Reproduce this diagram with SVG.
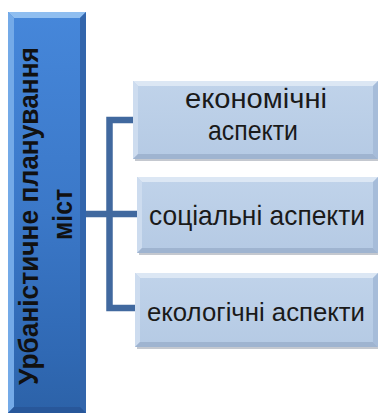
<svg xmlns="http://www.w3.org/2000/svg" width="378" height="414" viewBox="0 0 378 414">
<style>
.t{font-family:"Liberation Sans",Arial,sans-serif;font-size:28px;fill:#1a1a1a;text-anchor:middle}
.m{font-family:"Liberation Sans",Arial,sans-serif;font-size:28px;font-weight:bold;fill:#111;text-anchor:middle}
.conn{fill:none;stroke:#41699f;stroke-width:6.5;stroke-linecap:square}
.face{fill:url(#cg)}
.bt{fill:#dce7f4}.bl{fill:#cddcef}.br{fill:#a6bcd9}.bb{fill:#9fb4d0}
.sh{fill:#c4c8cf}
</style>
<defs>
<linearGradient id="mg" x1="0" y1="0" x2="0" y2="1">
<stop offset="0" stop-color="#4687da"/>
<stop offset="0.5" stop-color="#3b78c8"/>
<stop offset="0.85" stop-color="#3069b4"/>
<stop offset="1" stop-color="#2c62a8"/>
</linearGradient>
<linearGradient id="cg" x1="0" y1="0" x2="0" y2="1">
<stop offset="0" stop-color="#c0d3ea"/>
<stop offset="1" stop-color="#b5cae4"/>
</linearGradient>
</defs>
<g id="connectors">
<path class="conn" d="M86,214 H109.5 M109.5,120 V308 M109.5,120 H133 M109.5,214 H137 M109.5,308 H135"/>
</g>
<g id="main">
<rect x="8" y="12" width="78" height="401" fill="url(#mg)"/>
<polygon points="8,12 86,12 80,18 14,18" fill="#8fbef0"/>
<polygon points="8,12 14,18 14,407 8,413" fill="#74aae8"/>
<polygon points="86,12 86,413 80,407 80,18" fill="#3366ac"/>
<polygon points="8,413 86,413 80,407 14,407" fill="#28579a"/>
<text class="m" transform="translate(38,216) rotate(-90)" textLength="338" lengthAdjust="spacingAndGlyphs">Урбаністичне планування</text>
<text class="m" transform="translate(72,214.5) rotate(-90)" textLength="51" lengthAdjust="spacingAndGlyphs">міст</text>
</g>
<g id="box1">
<rect class="sh" x="135" y="158" width="243" height="3"/>
<rect class="face" x="133" y="81" width="245" height="78"/>
<polygon class="bt" points="133,81 378,81 373,86 138,86"/>
<polygon class="bl" points="133,81 138,86 138,154 133,159"/>
<polygon class="br" points="378,81 378,159 373,154 373,86"/>
<polygon class="bb" points="133,159 378,159 373,154 138,154"/>
<text class="t" x="256" y="108" textLength="142" lengthAdjust="spacingAndGlyphs">економічні</text>
<text class="t" x="253" y="140" textLength="90" lengthAdjust="spacingAndGlyphs">аспекти</text>
</g>
<g id="box2">
<rect class="sh" x="139" y="252" width="239" height="3"/>
<rect class="face" x="137" y="177" width="241" height="76"/>
<polygon class="bt" points="137,177 378,177 373,182 142,182"/>
<polygon class="bl" points="137,177 142,182 142,248 137,253"/>
<polygon class="br" points="378,177 378,253 373,248 373,182"/>
<polygon class="bb" points="137,253 378,253 373,248 142,248"/>
<text class="t" x="257" y="225" textLength="216" lengthAdjust="spacingAndGlyphs">соціальні аспекти</text>
</g>
<g id="box3">
<rect class="sh" x="137" y="346" width="241" height="3"/>
<rect class="face" x="135" y="273" width="243" height="74"/>
<polygon class="bt" points="135,273 378,273 373,278 140,278"/>
<polygon class="bl" points="135,273 140,278 140,342 135,347"/>
<polygon class="br" points="378,273 378,347 373,342 373,278"/>
<polygon class="bb" points="135,347 378,347 373,342 140,342"/>
<text class="t" x="256" y="321" style="font-size:26px" textLength="218" lengthAdjust="spacingAndGlyphs">екологічні аспекти</text>
</g>
</svg>
